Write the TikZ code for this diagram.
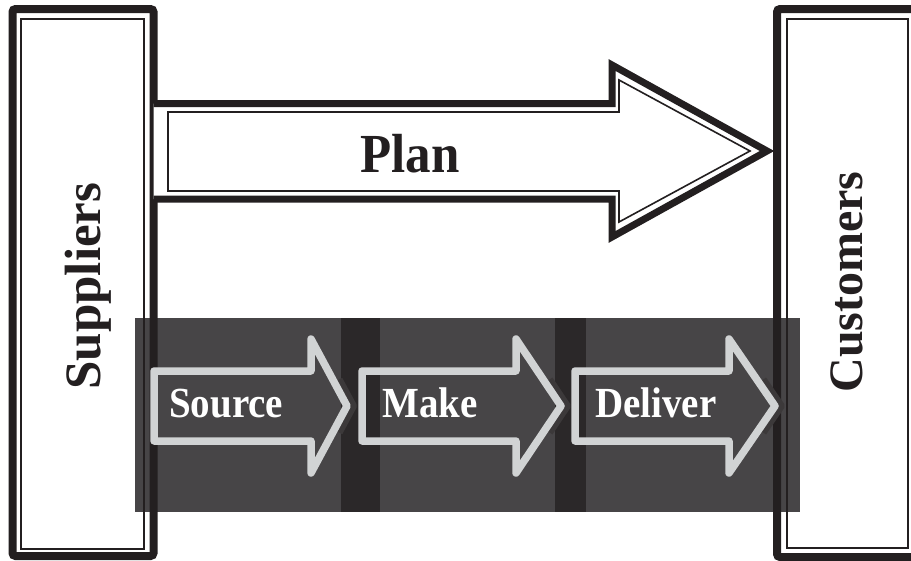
\documentclass[tikz,border=0pt]{standalone}
\usepackage{fontspec}
\setmainfont{Liberation Serif}
\definecolor{ink}{HTML}{231F20}
\definecolor{bandgray}{HTML}{474547}
\definecolor{stripgray}{HTML}{2B2829}
\definecolor{lightgray}{HTML}{D1D3D4}
\definecolor{ghostgray}{HTML}{3C393A}
\tikzset{
  outerline/.style={draw=ink, line width=8pt, line join=miter},
  innerline/.style={draw=ink, line width=2pt},
  planouter/.style={draw=ink, line width=7pt, line join=miter, fill=white},
  planinner/.style={draw=ink, line width=1.6pt, line join=miter},
  procshape/.style={draw=lightgray, line width=7.5pt, line join=round},
  ghostline/.style={draw=ghostgray, line width=6pt, line join=round},
  sidelabel/.style={font=\bfseries\fontsize{50}{50}\selectfont, text=ink, inner sep=0pt, rotate=90, anchor=base},
  steplabel/.style={font=\bfseries\fontsize{39}{39}\selectfont, text=white, inner sep=0pt, anchor=base west},
}
\newcommand\procarrow[3]{%
  \draw[ghostline] ({#3+7-0.4*(#3-#2)},{406-26.8}) -- ({#3+7},406) -- ({#3+7-0.4*(#3-#2)},{406+26.8});
  \draw[procshape] (#1,371) -- (#2,371) -- (#2,339) -- (#3,406) -- (#2,473) -- (#2,441) -- (#1,441) -- cycle;
}
\begin{document}
\begin{tikzpicture}[x=1pt,y=-1pt]
\useasboundingbox (0,0) rectangle (911,560);
\clip (0,0) rectangle (911,560);
% dark band behind the process steps
\fill[bandgray] (135,318) rectangle (800,512);
\fill[stripgray] (341,318) rectangle (380,512);
\fill[stripgray] (555,318) rectangle (586,512);
% supplier and customer boxes
\draw[outerline, rounded corners=3pt] (12.5,9) rectangle (153.5,556);
\draw[innerline] (21,19) rectangle (144,549);
\draw[outerline, rounded corners=3pt] (777,9) rectangle (922,557);
\draw[innerline] (787,19) rectangle (908,548);
% plan arrow
\draw[planouter] (153.5,103.5) -- (612,103.5) -- (612,65) -- (767,151) -- (612,237) -- (612,199) -- (153.5,199);
\draw[planinner] (168,112) -- (619,112) -- (619,80) -- (750,151) -- (619,222) -- (619,191) -- (168,191) -- cycle;
% process arrows
\procarrow{154}{311}{347}
\procarrow{362}{516}{561}
\procarrow{575}{729}{775}
% labels
\node[sidelabel] (suppliers) at (100,286) {\fontsize{51}{51}\selectfont Suppliers};
\node[sidelabel] (customers) at (862,282) {\fontsize{48}{48}\selectfont Customers};
\node[font=\bfseries\fontsize{51}{51}\selectfont, text=ink, inner sep=0pt, anchor=base] (plan) at (410,172) {\scalebox{1}[1.08]{Plan}};
\node[steplabel] (source) at (169,417) {\scalebox{1}[1.1]{Source}};
\node[steplabel] (make) at (382,417) {\scalebox{1}[1.1]{Make}};
\node[steplabel] (deliver) at (595,417) {\scalebox{1}[1.1]{Deliver}};
\end{tikzpicture}
\end{document}
